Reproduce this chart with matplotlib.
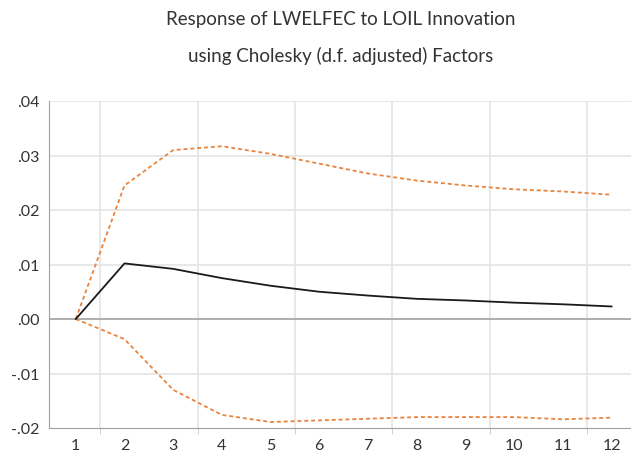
import matplotlib
matplotlib.use("Agg")
import matplotlib.pyplot as plt

periods = [1, 2, 3, 4, 5, 6, 7, 8, 9, 10, 11, 12]
response = [0.0, 0.0102, 0.0092, 0.0075, 0.0061, 0.0050, 0.0043, 0.0037, 0.0034, 0.0030, 0.0027, 0.0023]
upper = [0.0, 0.0245, 0.0310, 0.0317, 0.0303, 0.0285, 0.0267, 0.0254, 0.0245, 0.0238, 0.0234, 0.0228]
lower = [0.0, -0.0037, -0.0130, -0.0176, -0.0189, -0.0186, -0.0183, -0.0180, -0.0180, -0.0180, -0.0184, -0.0181]
yticks = [-0.02, -0.01, 0.0, 0.01, 0.02, 0.03, 0.04]
ytick_labels = ["-.02", "-.01", ".00", ".01", ".02", ".03", ".04"]
title1 = "Response of LWELFEC to LOIL Innovation"
title2 = "using Cholesky (d.f. adjusted) Factors"

plt.rcParams['font.family'] = ['Lato', 'DejaVu Sans']

W, H = 631, 456
fig = plt.figure(figsize=(W / 100, H / 100), dpi=100)
left, right, top, bottom = 49, 631, 102, 429
ax = fig.add_axes([left / W, 1 - bottom / H, (right - left) / W, (bottom - top) / H])

ax.set_xlim(0.45, 12.4)
ax.set_ylim(-0.02, 0.04)

# grid
for y in yticks:
    if y == 0.0:
        ax.axhline(y, color="#a8a8a8", lw=1.3, zorder=1)
    elif y != -0.02:
        ax.axhline(y, color="#e4e4e4", lw=1.2, zorder=0)
for x in [1.5, 3.5, 5.5, 7.5, 9.5, 11.5]:
    ax.axvline(x, color="#e4e4e4", lw=1.2, zorder=0)

orange = "#e8843e"
ax.plot(periods, upper, color=orange, lw=1.3, linestyle=(0, (2.2, 1.6)), zorder=3)
ax.plot(periods, lower, color=orange, lw=1.3, linestyle=(0, (2.2, 1.6)), zorder=3)
ax.plot(periods, response, color="#1a1a1a", lw=1.3, zorder=4)

for s in ["top", "right"]:
    ax.spines[s].set_visible(False)
ax.spines["left"].set_color("#a0a0a0")
ax.spines["bottom"].set_color("#a0a0a0")

ax.set_yticks(yticks)
ax.set_yticklabels(ytick_labels)
ax.tick_params(axis="y", length=0, pad=7, labelsize=11.5, colors="#333333")
ax.set_xticks(periods)
ax.set_xticklabels([str(p) for p in periods])
ax.tick_params(axis="x", length=0, pad=7, labelsize=11.5, colors="#333333")
ax.set_xticks([1.5, 3.5, 5.5, 7.5, 9.5, 11.5], minor=True)
ax.tick_params(axis="x", which="minor", length=4, color="#c8c8c8", direction="out")

fig.text((W / 2 + 25) / W, 1 - 20 / H, title1, ha="center", va="center", fontsize=13.5, color="#333333")
fig.text((W / 2 + 25) / W, 1 - 56 / H, title2, ha="center", va="center", fontsize=13.5, color="#333333")

fig.savefig("out.png", dpi=100)
